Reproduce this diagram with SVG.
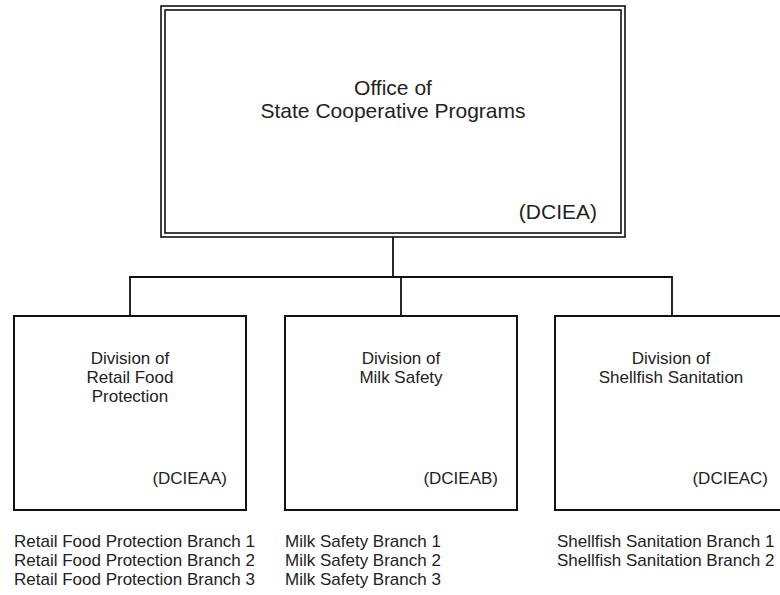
<svg xmlns="http://www.w3.org/2000/svg" width="780" height="595" viewBox="0 0 780 595">
<style>
text{font-family:"Liberation Sans",Arial,sans-serif;fill:#222}
.t{font-size:21px}
.d{font-size:17px}
.c{text-anchor:middle}
.r{text-anchor:end}
.box{fill:#fff;stroke:#111;stroke-width:2}
.dbl{fill:none;stroke:#111;stroke-width:1.6}
.conn{fill:none;stroke:#111;stroke-width:1.8}
</style>
<rect width="780" height="595" fill="#fff"/>
<g id="connectors">
<path class="conn" d="M393 237V277M130 316V277H672V316M401 277V316"/>
</g>
<g id="office">
<rect class="dbl" x="161" y="6" width="464" height="231"/>
<rect class="dbl" x="165" y="10" width="456" height="223"/>
<text class="t c" x="393" y="95">Office of</text>
<text class="t c" x="393" y="118">State Cooperative Programs</text>
<text class="t r" x="597" y="219">(DCIEA)</text>
</g>
<g id="retail">
<rect class="box" x="14" y="316" width="232" height="194"/>
<text class="d c" x="130" y="364">Division of</text>
<text class="d c" x="130" y="383">Retail Food</text>
<text class="d c" x="130" y="402">Protection</text>
<text class="d r" x="227" y="484">(DCIEAA)</text>
</g>
<g id="milk">
<rect class="box" x="285" y="316" width="232" height="194"/>
<text class="d c" x="401" y="364">Division of</text>
<text class="d c" x="401" y="383">Milk Safety</text>
<text class="d r" x="498" y="484">(DCIEAB)</text>
</g>
<g id="shellfish">
<rect class="box" x="555" y="316" width="232" height="194"/>
<text class="d c" x="671" y="364">Division of</text>
<text class="d c" x="671" y="383">Shellfish Sanitation</text>
<text class="d r" x="768" y="484">(DCIEAC)</text>
</g>
<g id="retail-branches">
<text class="d" x="14" y="547">Retail Food Protection Branch 1</text>
<text class="d" x="14" y="566">Retail Food Protection Branch 2</text>
<text class="d" x="14" y="585">Retail Food Protection Branch 3</text>
</g>
<g id="milk-branches">
<text class="d" x="285" y="547">Milk Safety Branch 1</text>
<text class="d" x="285" y="566">Milk Safety Branch 2</text>
<text class="d" x="285" y="585">Milk Safety Branch 3</text>
</g>
<g id="shellfish-branches">
<text class="d" x="557" y="547">Shellfish Sanitation Branch 1</text>
<text class="d" x="557" y="566">Shellfish Sanitation Branch 2</text>
</g>
</svg>
